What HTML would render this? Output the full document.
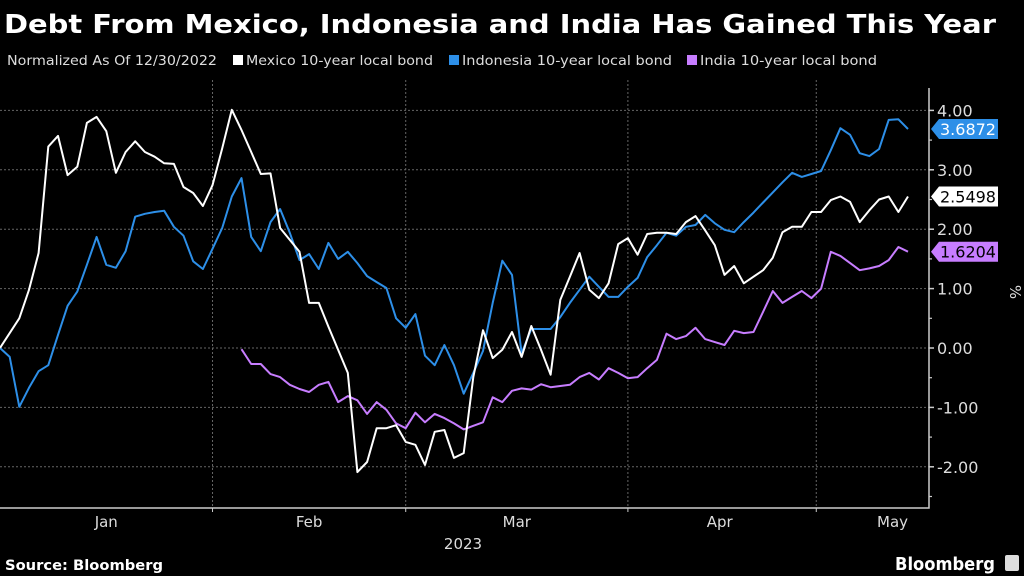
<!DOCTYPE html>
<html><head><meta charset="utf-8"><style>
html,body{margin:0;padding:0;background:#000;}
svg{display:block;font-family:"DejaVu Sans","Liberation Sans",sans-serif;}
</style></head><body>
<svg id="chart" width="1024" height="576" viewBox="0 0 1024 576">
<rect width="1024" height="576" fill="#000"/>
<text x="4" y="33" fill="#fff" font-size="26" font-weight="bold" textLength="992" lengthAdjust="spacingAndGlyphs">Debt From Mexico, Indonesia and India Has Gained This Year</text>
<g font-size="13.5" fill="#ddd">
<text x="7" y="65" textLength="210" lengthAdjust="spacingAndGlyphs">Normalized As Of 12/30/2022</text>
<g><rect x="233" y="55" width="10" height="10" fill="#fff"/><text x="246" y="65" textLength="187" lengthAdjust="spacingAndGlyphs">Mexico 10-year local bond</text></g>
<g><rect x="449" y="55" width="10" height="10" fill="#2d8fe8"/><text x="462" y="65" textLength="210" lengthAdjust="spacingAndGlyphs">Indonesia 10-year local bond</text></g>
<g><rect x="687" y="55" width="10" height="10" fill="#c77dff"/><text x="700" y="65" textLength="177" lengthAdjust="spacingAndGlyphs">India 10-year local bond</text></g>
</g>
<g id="grid"></g>
<g id="series"></g>
<g id="axes"></g>
<text x="463" y="549" fill="#ddd" font-size="15" text-anchor="middle">2023</text>
<text transform="translate(1010,292) rotate(90)" fill="#ddd" font-size="15" text-anchor="middle">%</text>
<text x="5" y="570" fill="#fff" font-size="14.5" font-weight="bold" textLength="158" lengthAdjust="spacingAndGlyphs">Source: Bloomberg</text>
<text x="895" y="570" fill="#fff" font-size="18" font-weight="bold" textLength="100" lengthAdjust="spacingAndGlyphs">Bloomberg</text>
<rect x="1005" y="555" width="14" height="16" rx="2" fill="#ddd"/>
</svg>
<script>
const yTicks = [4, 3, 2, 1, 0, -1, -2];
const yTickLabels = ["4.00", "3.00", "2.00", "1.00", "0.00", "-1.00", "-2.00"];
const monthLabels = ["Jan", "Feb", "Mar", "Apr", "May"];
const monthLabelIdx = [11, 32, 53.5, 74.5, 94];
const monthBoundaryIdx = [22, 42, 65, 84.5];
const mexico = [0,0.25,0.5,0.98,1.6,3.39,3.57,2.91,3.05,3.79,3.89,3.65,2.95,3.3,3.48,3.3,3.22,3.11,3.1,2.71,2.61,2.39,2.74,3.36,4.01,3.67,3.3,2.93,2.94,2.02,1.82,1.62,0.76,0.76,0.36,-0.03,-0.42,-2.09,-1.92,-1.35,-1.35,-1.3,-1.58,-1.63,-1.97,-1.41,-1.38,-1.85,-1.77,-0.49,0.3,-0.17,-0.03,0.27,-0.15,0.37,-0.03,-0.45,0.81,1.2,1.6,0.98,0.84,1.09,1.75,1.85,1.57,1.92,1.94,1.94,1.92,2.12,2.22,1.98,1.73,1.23,1.38,1.09,1.2,1.31,1.52,1.95,2.04,2.04,2.29,2.29,2.49,2.55,2.46,2.12,2.32,2.5,2.55,2.29,2.5498];
const indonesia = [0,-0.15,-0.99,-0.67,-0.39,-0.29,0.22,0.71,0.95,1.4,1.87,1.4,1.35,1.63,2.21,2.26,2.29,2.31,2.04,1.89,1.46,1.33,1.67,2.02,2.55,2.86,1.87,1.63,2.12,2.34,1.94,1.48,1.58,1.33,1.77,1.5,1.62,1.43,1.21,1.11,1.01,0.5,0.34,0.57,-0.13,-0.29,0.05,-0.29,-0.77,-0.42,-0.05,0.76,1.47,1.23,-0.09,0.32,0.32,0.32,0.52,0.76,0.98,1.2,1.03,0.86,0.86,1.03,1.18,1.53,1.73,1.94,1.89,2.04,2.07,2.24,2.1,1.99,1.95,2.12,2.28,2.45,2.62,2.79,2.95,2.88,2.93,2.98,3.33,3.7,3.59,3.28,3.23,3.35,3.84,3.85,3.6872];
const indiaStart = 25;
const india = [-0.02,-0.27,-0.27,-0.44,-0.49,-0.62,-0.69,-0.74,-0.62,-0.57,-0.91,-0.81,-0.88,-1.11,-0.91,-1.04,-1.27,-1.35,-1.09,-1.25,-1.11,-1.18,-1.27,-1.37,-1.31,-1.25,-0.83,-0.91,-0.72,-0.68,-0.7,-0.61,-0.66,-0.64,-0.62,-0.49,-0.42,-0.53,-0.34,-0.42,-0.51,-0.49,-0.34,-0.2,0.24,0.15,0.2,0.34,0.15,0.1,0.05,0.29,0.25,0.27,0.61,0.96,0.76,0.86,0.96,0.84,1.0,1.62,1.55,1.43,1.31,1.34,1.38,1.48,1.7,1.6204];

const NS = "http://www.w3.org/2000/svg";
const plotL = 0, plotR = 929, plotT = 80, plotB = 508;
const xMax = 96;
function xs(i){ return plotL + i * 9.66; }
function ys(v){ return 348 - v * 59.4; }
function mk(tag, attrs, parent){ const e = document.createElementNS(NS, tag); for (const k in attrs) e.setAttribute(k, attrs[k]); parent.appendChild(e); return e; }

const grid = document.getElementById("grid");
const axes = document.getElementById("axes");
const series = document.getElementById("series");

yTicks.forEach((t, k) => {
  const l = mk("line", {x1: plotL, x2: plotR, y1: ys(t), y2: ys(t), stroke: "#666", "stroke-width": 1, "stroke-dasharray": "2,2"}, grid);
  
  
  const tk = mk("line", {x1: plotR, x2: plotR + 5, y1: ys(t), y2: ys(t), stroke: "#ccc", "stroke-width": 1.5}, axes);
  
  
  const mt = mk("line", {x1: plotR, x2: plotR + 3, y1: ys(t - 0.5), y2: ys(t - 0.5), stroke: "#ccc", "stroke-width": 1.2}, axes);
  
  
  const tx = mk("text", {x: plotR + 8, y: ys(t) + 6, fill: "#ddd", "font-size": 16}, axes);
  tx.textContent = yTickLabels[k];
  
  
});
monthBoundaryIdx.forEach(i => {
  const g = mk("line", {x1: xs(i), x2: xs(i), y1: plotT, y2: plotB, stroke: "#666", "stroke-width": 1, "stroke-dasharray": "2,2"}, grid);
  
  
  const tk = mk("line", {x1: xs(i), x2: xs(i), y1: plotB, y2: plotB + 4, stroke: "#ccc", "stroke-width": 1}, axes);
  
  
});
monthLabels.forEach((m, k) => {
  const tx = mk("text", {x: xs(monthLabelIdx[k]), y: 527, fill: "#ddd", "font-size": 15, "text-anchor": k === 4 ? "end" : "middle"}, axes);
  tx.textContent = m;
  
  
});
const ax = mk("path", {d: `M${plotL},${plotB}H${plotR}V88`, stroke: "#ccc", "stroke-width": 1.5, fill: "none"}, axes);



function drawLine(vals, start, color, name){
  const d = vals.map((v, i) => (i ? "L" : "M") + xs(start + i).toFixed(1) + "," + ys(v).toFixed(1)).join("");
  const p = mk("path", {d: d, stroke: color, "stroke-width": 2, fill: "none", "stroke-linejoin": "round"}, series);
  
  
}
drawLine(india, indiaStart, "#c77dff", "india-line");
drawLine(indonesia, 0, "#2d8fe8", "indonesia-line");
drawLine(mexico, 0, "#ffffff", "mexico-line");

function tag(v, bg, fg, name){
  const cy = ys(v);
  const g = mk("g", {}, axes);
  
  
  mk("path", {d: `M931,${cy}L939,${cy-10}H998V${cy+10}H939Z`, fill: bg}, g);
  const t = mk("text", {x: 940, y: cy + 6, fill: fg, "font-size": 16}, g);
  t.textContent = v.toFixed(4);
}
tag(indonesia[indonesia.length - 1], "#2d8fe8", "#fff", "indonesia-value-tag");
tag(mexico[mexico.length - 1], "#fff", "#000", "mexico-value-tag");
tag(india[india.length - 1], "#c77dff", "#000", "india-value-tag");
</script>
</body></html>
